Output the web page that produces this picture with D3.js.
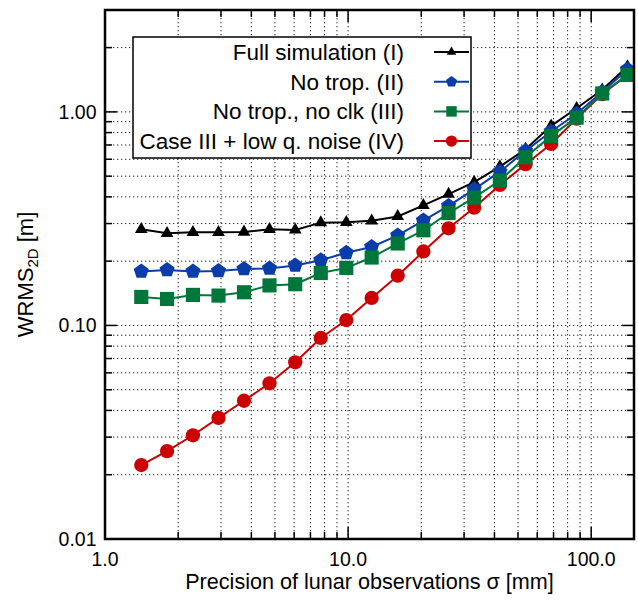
<!DOCTYPE html>
<html>
<head>
<meta charset="utf-8">
<script src="https://cdn.jsdelivr.net/npm/d3@7"></script>
<style>
    body { margin: 0; background: #fff; }
    svg text { font-family: "Liberation Sans", Arial, sans-serif; fill: #000; }
</style>
</head>
<body>
<div id="chart"></div>
<script>
// precision of lunar observations (mm)
const sigma = [1.41, 1.80, 2.30, 2.93, 3.73, 4.75, 6.06, 7.72, 9.83, 12.5, 16.0, 20.4, 25.9, 33.0, 42.1, 53.7, 68.4, 87.1, 111, 141];

// WRMS 2D (m) for each case
const fullSim = [0.282, 0.270, 0.273, 0.273, 0.274, 0.282, 0.280, 0.303, 0.304, 0.309, 0.324, 0.365, 0.412, 0.469, 0.554, 0.669, 0.86, 1.04, 1.27, 1.63];
const noTrop = [0.179, 0.182, 0.179, 0.180, 0.184, 0.185, 0.191, 0.202, 0.219, 0.233, 0.264, 0.310, 0.363, 0.434, 0.525, 0.657, 0.81, 0.98, 1.24, 1.58];
const noTropNoClk = [0.136, 0.133, 0.139, 0.138, 0.143, 0.154, 0.156, 0.176, 0.186, 0.208, 0.242, 0.279, 0.336, 0.397, 0.477, 0.613, 0.772, 0.94, 1.22, 1.49];
const lowNoise = [0.0222, 0.0258, 0.0306, 0.0369, 0.0444, 0.0536, 0.0672, 0.0874, 0.106, 0.1345, 0.171, 0.222, 0.285, 0.356, 0.455, 0.569, 0.708, 0.93, 1.21, 1.49];

const seriesNames = ["Full simulation (I)", "No trop. (II)", "No trop., no clk (III)", "Case III + low q. noise (IV)"];

const xTickLabels = ["1.0", "10.0", "100.0"];
const yTickLabels = ["0.01", "0.10", "1.00"];

const W = 638, H = 603;
const margin = {top: 10, right: 4, bottom: 64, left: 105};
const width = W - margin.left - margin.right;
const height = H - margin.top - margin.bottom;

const svg = d3.select("#chart").append("svg")
    .attr("width", W)
    .attr("height", H);

const g = svg.append("g")
    .attr("transform", `translate(${margin.left}, ${margin.top})`);

const x = d3.scaleLog().domain([1, 150]).range([0, width]);
const y = d3.scaleLog().domain([0.01, 3]).range([height, 0]);

// minor + major positions for grid and ticks
const xMajor = [1, 10, 100];
const xMinor = [];
[1, 10, 100].forEach(d => { for (let i = 2; i <= 9; i++) if (d * i < 150) xMinor.push(d * i); });
const yMajor = [0.01, 0.1, 1];
const yMinor = [];
[0.01, 0.1, 1].forEach(d => { for (let i = 2; i <= 9; i++) if (d * i < 3) yMinor.push(d * i); });

// dotted grid
const grid = g.append("g").attr("class", "grid")
    .attr("stroke", "#222")
    .attr("stroke-width", 1)
    .attr("stroke-dasharray", "1.3,2.7");

grid.selectAll(".vg")
    .data(xMajor.concat(xMinor).filter(d => d > 1))
    .enter().append("line")
    .attr("x1", d => x(d)).attr("x2", d => x(d))
    .attr("y1", 0).attr("y2", height);

grid.selectAll(".hg")
    .data(yMajor.concat(yMinor).filter(d => d > 0.01))
    .enter().append("line")
    .attr("y1", d => y(d)).attr("y2", d => y(d))
    .attr("x1", 0).attr("x2", width);

// inward ticks on all four sides
const majLen = 12, minLen = 7;
const ticks = g.append("g").attr("stroke", "#000").attr("stroke-width", 1.5);

function xTicks(vals, len) {
    ticks.selectAll(null).data(vals).enter().append("line")
        .attr("x1", d => x(d)).attr("x2", d => x(d))
        .attr("y1", height).attr("y2", height - len);
    ticks.selectAll(null).data(vals).enter().append("line")
        .attr("x1", d => x(d)).attr("x2", d => x(d))
        .attr("y1", 0).attr("y2", len);
}
function yTicks(vals, len) {
    ticks.selectAll(null).data(vals).enter().append("line")
        .attr("y1", d => y(d)).attr("y2", d => y(d))
        .attr("x1", 0).attr("x2", len);
    ticks.selectAll(null).data(vals).enter().append("line")
        .attr("y1", d => y(d)).attr("y2", d => y(d))
        .attr("x1", width).attr("x2", width - len);
}
xTicks(xMajor, majLen);
xTicks(xMinor, minLen);
yTicks(yMajor, majLen);
yTicks(yMinor, minLen);

// tick labels
g.selectAll(".xl")
    .data(xMajor)
    .enter().append("text")
    .attr("x", d => x(d))
    .attr("y", height + 27)
    .attr("text-anchor", "middle")
    .attr("font-size", 19.5)
    .text((d, i) => xTickLabels[i]);

g.selectAll(".yl")
    .data(yMajor)
    .enter().append("text")
    .attr("x", -8.5)
    .attr("y", d => y(d))
    .attr("dy", "0.35em")
    .attr("text-anchor", "end")
    .attr("font-size", 19.5)
    .text((d, i) => yTickLabels[i]);

// axis titles
svg.append("text")
    .attr("x", margin.left + width / 2)
    .attr("y", 589)
    .attr("text-anchor", "middle")
    .attr("font-size", 21.6)
    .text("Precision of lunar observations σ [mm]");

const yTitle = svg.append("text")
    .attr("transform", `translate(33, ${margin.top + height / 2}) rotate(-90)`)
    .attr("text-anchor", "middle")
    .attr("font-size", 22);
yTitle.append("tspan").text("WRMS");
yTitle.append("tspan").attr("font-size", 15).attr("dy", 5).text("2D");
yTitle.append("tspan").attr("dy", -5).text(" [m]");

// series
const pentagon = {
    draw(context, size) {
        const r = Math.sqrt(size / 2.3776);
        for (let i = 0; i < 5; i++) {
            const a = -Math.PI / 2 + i * 2 * Math.PI / 5;
            if (i === 0) context.moveTo(r * Math.cos(a), r * Math.sin(a));
            else context.lineTo(r * Math.cos(a), r * Math.sin(a));
        }
        context.closePath();
    }
};

const series = [
    {name: seriesNames[0], values: fullSim, color: "#000000", symbol: d3.symbolTriangle, size: 70, legendSize: 40},
    {name: seriesNames[1], values: noTrop, color: "#0a3caa", symbol: pentagon, size: 150, legendSize: 80},
    {name: seriesNames[2], values: noTropNoClk, color: "#00773a", symbol: d3.symbolSquare, size: 200, legendSize: 110},
    {name: seriesNames[3], values: lowNoise, color: "#cc0000", symbol: d3.symbolCircle, size: 160, legendSize: 100}
];

const line = d3.line()
    .x((d, i) => x(sigma[i]))
    .y(d => y(d));

// draw order so that green sits on top, red underneath
const drawOrder = [3, 0, 1, 2];
drawOrder.forEach(k => {
    const s = series[k];
    const sg = g.append("g");
    sg.append("path")
        .attr("d", line(s.values))
        .attr("fill", "none")
        .attr("stroke", s.color)
        .attr("stroke-width", 2);
    sg.selectAll("path.mark")
        .data(s.values)
        .enter().append("path")
        .attr("class", "mark")
        .attr("transform", (d, i) => `translate(${x(sigma[i])}, ${y(d)})`)
        .attr("d", d3.symbol().type(s.symbol).size(s.size))
        .attr("fill", s.color);
});

// frame
g.append("rect")
    .attr("width", width)
    .attr("height", height)
    .attr("fill", "none")
    .attr("stroke", "#000")
    .attr("stroke-width", 2.5);

// legend
const legend = svg.append("g").attr("transform", "translate(133, 37)");
legend.append("rect")
    .attr("width", 338)
    .attr("height", 121)
    .attr("fill", "#fff")
    .attr("stroke", "#000")
    .attr("stroke-width", 1.5);

const rows = legend.selectAll(".row")
    .data(series)
    .enter().append("g")
    .attr("transform", (d, i) => `translate(0, ${15 + i * 29.7})`);

rows.append("text")
    .attr("x", 271)
    .attr("dy", "0.35em")
    .attr("text-anchor", "end")
    .attr("font-size", 22.5)
    .text(d => d.name);

rows.append("line")
    .attr("x1", 301).attr("x2", 336)
    .attr("stroke", d => d.color)
    .attr("stroke-width", 2);

rows.append("path")
    .attr("transform", "translate(318.5, 0)")
    .attr("d", d => d3.symbol().type(d.symbol).size(d.legendSize)())
    .attr("fill", d => d.color);
</script>
</body>
</html>
